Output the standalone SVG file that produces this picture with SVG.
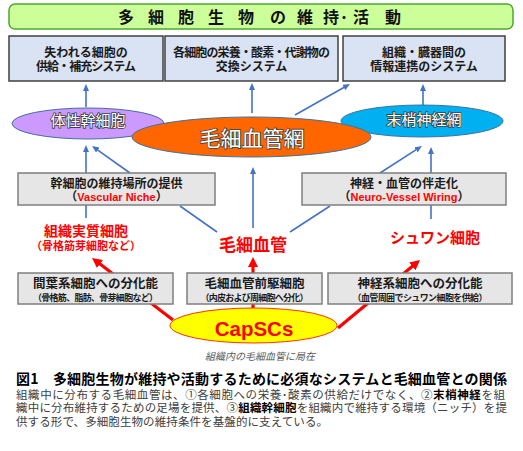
<svg xmlns="http://www.w3.org/2000/svg" width="523" height="451" viewBox="0 0 523 451">
<style>
text{font-family:"Noto Sans CJK JP","Noto Sans CJK SC",sans-serif;}
.bx{fill:#dae3f3;stroke:#404040;stroke-width:1.5;}
.gb{fill:#e7e6e6;stroke:#7f7f7f;stroke-width:1.5;}
.t12{font-size:12px;font-weight:bold;fill:#1a1a1a;text-anchor:middle;}
.s9{font-size:9px;}
.lat{font-family:"Liberation Sans",Arial,sans-serif;font-weight:bold;fill:#ff0000;}
.el{fill:#fff;stroke:#404040;stroke-width:1.6;paint-order:stroke;text-anchor:middle;}
.bl{stroke:#4472c4;stroke-width:1.6;fill:none;}
.rd{stroke:#ff0000;stroke-width:3.2;fill:none;}
.red{fill:#ff0000;font-weight:bold;text-anchor:middle;}
.body{font-size:11.5px;fill:#404040;}
</style>
<defs>
<marker id="ab" markerUnits="userSpaceOnUse" markerWidth="7" markerHeight="6" refX="3" refY="3" orient="auto"><path d="M0,0 L7,3 L0,6 z" fill="#4472c4"/></marker>
<marker id="ar" markerUnits="userSpaceOnUse" markerWidth="10" markerHeight="10" refX="4" refY="5" orient="auto"><path d="M0,0 L10,5 L0,10 z" fill="#ff0000"/></marker>
</defs>

<g id="title">
<rect x="9" y="4" width="504" height="25" rx="6" fill="#ccff99" stroke="#4ea72e" stroke-width="1.5"/>
<text x="118 133 148 163 178 193 208 223 238 255 270 284 297 313 323 340 353 370 385" y="23" font-size="16" font-weight="bold" fill="#111">多 細 胞 生 物 の 維 持･活 動</text>
</g>

<g id="box-supply">
<rect class="bx" x="9" y="36" width="154" height="45"/>
<text class="t12"><tspan x="86" y="56.5">失われる細胞の</tspan><tspan x="86" dy="14" textLength="100">供給・補充システム</tspan></text>
</g>
<g id="box-exchange">
<rect class="bx" x="165" y="36" width="173" height="45"/>
<text class="t12"><tspan x="251.5" y="56.5" textLength="157">各細胞の栄養・酸素・代謝物の</tspan><tspan x="251.5" dy="14">交換システム</tspan></text>
</g>
<g id="box-info">
<rect class="bx" x="343" y="36" width="162" height="45"/>
<text class="t12"><tspan x="424" y="56.5">組織・臓器間の</tspan><tspan x="424" dy="14">情報連携のシステム</tspan></text>
</g>

<g id="connectors">
<line class="bl" x1="86" y1="107" x2="86" y2="88" marker-end="url(#ab)"/>
<line class="bl" x1="252" y1="113" x2="252" y2="87" marker-end="url(#ab)"/>
<line class="bl" x1="295" y1="115" x2="346.5" y2="86" marker-end="url(#ab)"/>
<line class="bl" x1="423" y1="105" x2="423" y2="88" marker-end="url(#ab)"/>
<line class="bl" x1="86" y1="173" x2="86" y2="149" marker-end="url(#ab)"/>
<line class="bl" x1="130" y1="173" x2="95.3" y2="148.3" marker-end="url(#ab)"/>
<line class="bl" x1="253" y1="228" x2="253" y2="171" marker-end="url(#ab)"/>
<line class="bl" x1="431" y1="173" x2="431" y2="151" marker-end="url(#ab)"/>
<line class="bl" x1="380" y1="173" x2="418.6" y2="148.2" marker-end="url(#ab)"/>
<line class="bl" x1="86" y1="205" x2="86" y2="218"/>
<line class="bl" x1="180" y1="206" x2="217" y2="232"/>
<line class="bl" x1="330" y1="206" x2="290" y2="232"/>
<line class="bl" x1="431" y1="205" x2="431" y2="219"/>
<line class="rd" x1="173" y1="320" x2="96.8" y2="261.6" marker-end="url(#ar)"/>
<line class="rd" x1="253" y1="310" x2="253" y2="263" marker-end="url(#ar)"/>
<line class="rd" x1="338" y1="328" x2="415.4" y2="263.8" marker-end="url(#ar)"/>
</g>

<g id="somatic-stem">
<ellipse cx="88" cy="123.5" rx="76" ry="15.5" fill="#cc99ff" stroke="#41719c" stroke-width="1"/>
<text class="el" x="88" y="126" font-size="15">体性幹細胞</text>
</g>
<g id="nerve-net">
<ellipse cx="422" cy="121" rx="81" ry="16" fill="#00b0f0" stroke="#41719c" stroke-width="1"/>
<text class="el" x="424" y="125" font-size="15">末梢神経網</text>
</g>
<g id="capillary-net">
<ellipse cx="251.5" cy="137" rx="119.5" ry="20" fill="#ff6600" stroke="#41719c" stroke-width="1"/>
<text class="el" x="252" y="146" font-size="21">毛細血管網</text>
</g>

<g id="box-niche">
<rect class="gb" x="18" y="173" width="197" height="32"/>
<text class="t12"><tspan x="116.5" y="188">幹細胞の維持場所の提供</tspan><tspan x="116.5" dy="13">（<tspan class="lat" font-size="11">Vascular Niche</tspan>）</tspan></text>
</g>
<g id="box-wiring">
<rect class="gb" x="302" y="173" width="204" height="32"/>
<text class="t12"><tspan x="404" y="188">神経・血管の伴走化</tspan><tspan x="404" dy="13">（<tspan class="lat" font-size="11">Neuro-Vessel Wiring</tspan>）</tspan></text>
</g>

<g id="tissue-cells">
<text class="red"><tspan x="86" y="236" font-size="14">組織実質細胞</tspan><tspan x="86" y="249.5" font-size="11">（骨格筋芽細胞など）</tspan></text>
</g>
<g id="capillary">
<text class="red" x="253" y="251" font-size="17">毛細血管</text>
</g>
<g id="schwann">
<text class="red" x="435" y="243" font-size="15">シュワン細胞</text>
</g>

<g id="box-mesench">
<rect class="gb" x="18" y="273" width="155" height="31"/>
<text class="t12"><tspan x="95.5" y="288" font-size="12.5">間葉系細胞への分化能</tspan><tspan class="s9" x="95.5" y="300.5" textLength="125">（骨格筋、脂肪、骨芽細胞など）</tspan></text>
</g>
<g id="box-progenitor">
<rect class="gb" x="187" y="273" width="135" height="31"/>
<text class="t12"><tspan x="254.5" y="288" font-size="12.5">毛細血管前駆細胞</tspan><tspan class="s9" x="254.5" y="300.5" textLength="108">（内皮および周細胞へ分化）</tspan></text>
</g>
<g id="box-neural">
<rect class="gb" x="328" y="273" width="184" height="31"/>
<text class="t12"><tspan x="420" y="288" font-size="12.5">神経系細胞への分化能</tspan><tspan class="s9" x="420" y="300.5" textLength="135">（血管周囲でシュワン細胞を供給）</tspan></text>
</g>

<g id="capscs">
<ellipse cx="253.5" cy="325.5" rx="83.5" ry="17.5" fill="#ffff00" stroke="#ff3300" stroke-width="1"/>
<text x="254" y="336" font-size="20.5" font-weight="bold" fill="#ff0000" text-anchor="middle" style="font-family:'Liberation Sans',Arial,sans-serif">CapSCs</text>
<text x="260" y="360" font-size="10" font-style="italic" fill="#595959" text-anchor="middle">組織内の毛細血管に局在</text>
</g>

<g id="caption">
<text x="16" y="384" font-size="14" font-weight="bold" fill="#000" textLength="491">図1　多細胞生物が維持や活動するために必須なシステムと毛細血管との関係</text>
<text class="body" x="16" y="398.5" textLength="489">組織中に分布する毛細血管は、①各細胞への栄養･酸素の供給だけでなく、②<tspan font-weight="bold" fill="#000">末梢神経</tspan>を組</text>
<text class="body" x="16" y="412" textLength="491">織中に分布維持するための足場を提供、③<tspan font-weight="bold" fill="#000">組織幹細胞</tspan>を組織内で維持する環境（ニッチ）を提</text>
<text class="body" x="16" y="425.5" textLength="312">供する形で、多細胞生物の維持条件を基盤的に支えている。</text>
</g>
</svg>
